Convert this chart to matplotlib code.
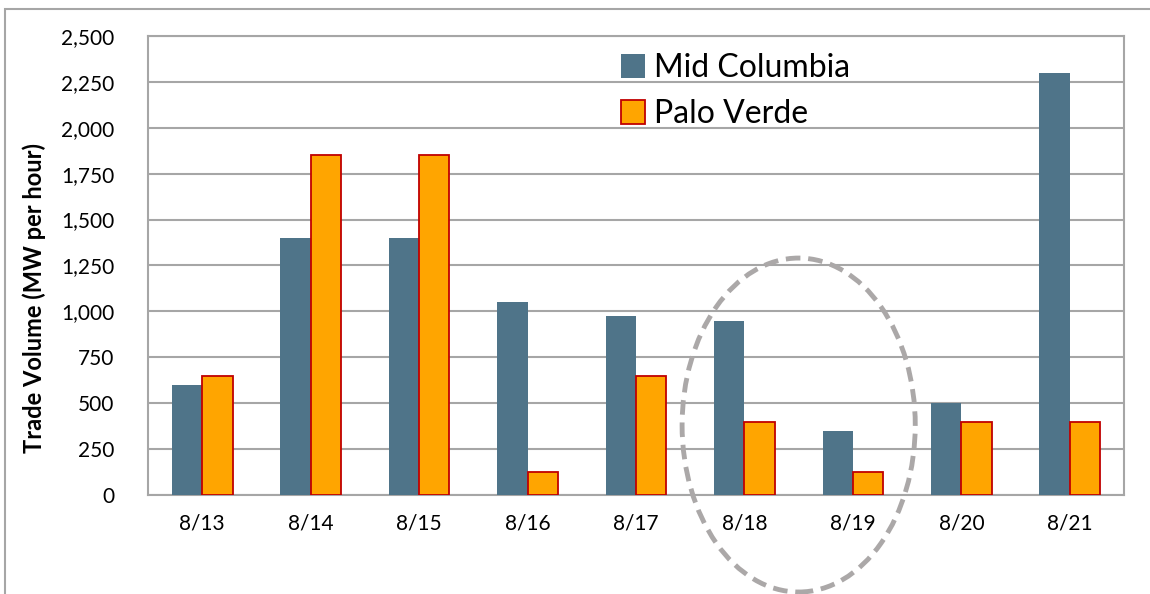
import numpy as np
import matplotlib.pyplot as plt
from matplotlib.patches import Ellipse, Rectangle
from matplotlib.ticker import FuncFormatter, MultipleLocator

dates = ['8/13', '8/14', '8/15', '8/16', '8/17', '8/18', '8/19', '8/20', '8/21']
mid_columbia = [600, 1400, 1400, 1050, 975, 950, 350, 500, 2300]
palo_verde = [650, 1850, 1850, 125, 650, 400, 125, 400, 400]

plt.rcParams['font.family'] = ['Lato', 'DejaVu Sans']

fig = plt.figure(figsize=(11.5, 5.94), dpi=100)
ax = fig.add_axes([0.1287, 0.1667, 0.8487, 0.7727])

x = np.arange(len(dates))
w = 0.28
ax.bar(x - w / 2, mid_columbia, w, color='#4F7489', label='Mid Columbia', zorder=3)
ax.bar(x + w / 2, palo_verde, w, color='#FFA500', edgecolor='#C00000',
       linewidth=1.3, label='Palo Verde', zorder=3)

ax.set_xlim(-0.5, len(dates) - 0.5)
ax.set_ylim(0, 2500)
ax.yaxis.set_major_locator(MultipleLocator(250))
ax.yaxis.set_major_formatter(FuncFormatter(lambda v, p: f'{int(v):,}'))
ax.set_xticks(x)
ax.set_xticklabels(dates)
ax.tick_params(axis='both', length=0, labelsize=15)
ax.tick_params(axis='x', pad=13)
ax.tick_params(axis='y', pad=24)
ax.grid(axis='y', color='#A6A6A6', linewidth=1.5, zorder=0)
for s in ax.spines.values():
    s.set_color('#A6A6A6')
    s.set_linewidth(1.5)

ax.set_ylabel('Trade Volume (MW per hour)', fontsize=17, fontweight='bold')
ax.yaxis.set_label_coords(-0.105, 0.43)

# dashed ellipse around 8/18-8/19
ell = Ellipse((5.5, 381), 2.15, 1819, fill=False, edgecolor='#ABA8A8',
              linewidth=3.5, linestyle=(0, (3, 1.6)), clip_on=False, zorder=5)
ax.add_patch(ell)

leg = ax.legend(loc='upper left', bbox_to_anchor=(0.455, 1.025), frameon=False,
                fontsize=23, handlelength=0.75, handleheight=0.75,
                handletextpad=0.3, labelspacing=0.5)

# outer chart border
fig.patches.append(Rectangle((5 / 1150, -0.1), 1.2, 1 - 9 / 594 + 0.1,
                             transform=fig.transFigure, fill=False,
                             edgecolor='#A6A6A6', linewidth=1.5))

fig.savefig('out.png', dpi=100)
